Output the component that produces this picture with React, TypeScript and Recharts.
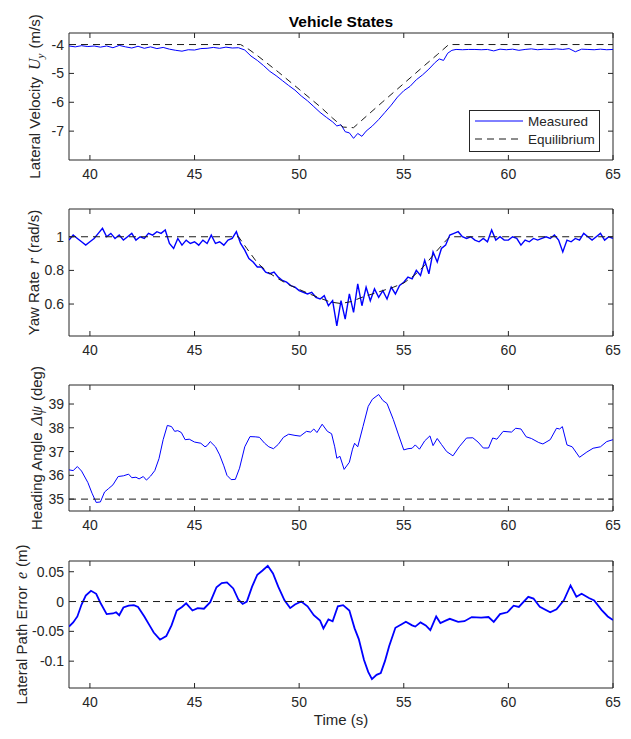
import React from 'react';
import { LineChart, Line, XAxis, YAxis, ReferenceArea, Legend } from 'recharts';

// ---------------- data ----------------
const timeTicks = [40, 45, 50, 55, 60, 65];
const timeDomain = [39, 65];

// Panel 1: lateral velocity Uy (m/s)
const uyTime = [
  39.0, 39.3, 39.6, 39.9, 40.2, 40.5, 40.8, 41.1, 41.4, 41.7,
  42.0, 42.3, 42.6, 42.9, 43.2, 43.5, 43.8, 44.1, 44.4, 44.7,
  45.0, 45.3, 45.6, 45.9, 46.2, 46.5, 46.8, 47.1, 47.4, 47.7,
  48.0, 48.3, 48.6, 48.9, 49.2, 49.5, 49.8, 50.1, 50.4, 50.7,
  51.0, 51.3, 51.6, 51.8, 52.0, 52.2, 52.4, 52.6, 52.8, 53.0,
  53.2, 53.5, 53.8, 54.1, 54.4, 54.7, 55.0, 55.3, 55.6, 55.9,
  56.2, 56.5, 56.7, 56.9, 57.1, 57.3, 57.5, 57.8, 58.1, 58.4,
  58.7, 59.0, 59.3, 59.6, 59.9, 60.2, 60.5, 60.8, 61.1, 61.4,
  61.7, 62.0, 62.3, 62.6, 62.9, 63.2, 63.5, 63.8, 64.1, 64.4,
  64.7, 65.0,
];
const uyMeasured = [
  -4.05, -4.08, -4.04, -4.07, -4.05, -4.09, -4.05, -4.11, -4.03, -4.08,
  -4.12, -4.06, -4.13, -4.08, -4.14, -4.10, -4.16, -4.20, -4.23, -4.18,
  -4.19, -4.14, -4.13, -4.10, -4.13, -4.09, -4.12, -4.11, -4.19, -4.40,
  -4.55, -4.73, -4.93, -5.08, -5.25, -5.42, -5.58, -5.78, -5.95, -6.15,
  -6.35, -6.52, -6.68, -6.82, -6.78, -7.02, -7.06, -7.25, -7.08, -7.18,
  -7.00, -6.82, -6.60, -6.35, -6.10, -5.82, -5.60, -5.45, -5.22, -5.05,
  -4.85, -4.62, -4.50, -4.55, -4.30, -4.20, -4.17, -4.18, -4.17, -4.17,
  -4.18, -4.17, -4.22, -4.16, -4.18, -4.16, -4.20, -4.17, -4.15, -4.18,
  -4.16, -4.17, -4.15, -4.17, -4.14, -4.25, -4.16, -4.17, -4.18, -4.16,
  -4.18, -4.17,
];
const uyEqTime = [39, 47.2, 47.6, 48, 49, 50, 51, 51.6, 52.1, 52.6, 53, 54, 55, 56, 56.6, 57.15, 65];
const uyEquilibrium = [-4, -4, -4.17, -4.38, -4.95, -5.55, -6.15, -6.55, -6.86, -6.88, -6.62, -5.98, -5.35, -4.72, -4.35, -4, -4];
const uyTicks = [-7, -6, -5, -4];
const uyDomain = [-8, -3.6];

// Panel 2: yaw rate r (rad/s)
const yawTime = [
  39.0, 39.2, 39.4, 39.6, 39.8, 40.0, 40.2, 40.4, 40.6, 40.8,
  41.0, 41.2, 41.4, 41.6, 41.8, 42.0, 42.2, 42.4, 42.6, 42.8,
  43.0, 43.2, 43.4, 43.6, 43.8, 44.0, 44.2, 44.4, 44.6, 44.8,
  45.0, 45.2, 45.4, 45.6, 45.8, 46.0, 46.2, 46.4, 46.6, 46.8,
  47.0, 47.2, 47.4, 47.6, 47.8, 48.0, 48.2, 48.4, 48.6, 48.8,
  49.0, 49.2, 49.4, 49.6, 49.8, 50.0, 50.2, 50.4, 50.6, 50.8,
  51.0, 51.2, 51.4, 51.6, 51.8, 52.0, 52.2, 52.4, 52.6, 52.8,
  53.0, 53.2, 53.4, 53.6, 53.8, 54.0, 54.2, 54.4, 54.6, 54.8,
  55.0, 55.2, 55.4, 55.6, 55.8, 56.0, 56.2, 56.4, 56.6, 56.8,
  57.0, 57.2, 57.4, 57.6, 57.8, 58.0, 58.2, 58.4, 58.6, 58.8,
  59.0, 59.2, 59.4, 59.6, 59.8, 60.0, 60.2, 60.4, 60.6, 60.8,
  61.0, 61.2, 61.4, 61.6, 61.8, 62.0, 62.2, 62.4, 62.6, 62.8,
  63.0, 63.2, 63.4, 63.6, 63.8, 64.0, 64.2, 64.4, 64.6, 64.8,
  65.0,
];
const yawMeasured = [
  0.98, 1.01, 0.99, 0.97, 0.95, 0.97, 0.99, 1.02, 1.05, 1.00,
  1.02, 0.99, 1.01, 0.98, 1.00, 1.02, 0.98, 1.00, 0.99, 1.02,
  1.01, 1.03, 1.02, 1.04, 0.96, 0.93, 0.99, 0.95, 0.98, 0.96,
  0.97, 0.95, 0.98, 0.96, 1.01, 0.96, 0.97, 0.95, 0.98, 0.99,
  1.03, 0.96, 0.92, 0.87, 0.85, 0.82, 0.82, 0.79, 0.78, 0.79,
  0.76, 0.74, 0.73, 0.71, 0.70, 0.68, 0.67, 0.66, 0.67, 0.64,
  0.63, 0.65, 0.59, 0.62, 0.47, 0.62, 0.51, 0.66, 0.55, 0.72,
  0.59, 0.70, 0.62, 0.69, 0.64, 0.68, 0.63, 0.70, 0.66, 0.71,
  0.73, 0.76, 0.75, 0.80, 0.77, 0.86, 0.78, 0.91, 0.85, 0.93,
  0.95, 1.01, 1.02, 1.03, 1.00, 0.99, 1.00, 0.98, 0.97, 0.99,
  0.97, 1.04, 0.98, 1.00, 0.98, 0.98, 1.00, 0.99, 0.95, 0.98,
  0.97, 0.99, 0.98, 0.99, 1.00, 0.99, 1.01, 0.98, 0.91, 0.98,
  0.97, 0.99, 0.98, 1.02, 1.00, 0.98, 1.00, 1.02, 0.98, 1.00,
  0.99,
];
const yawEqTime = [39, 47.1, 47.5, 48, 48.5, 49, 49.5, 50, 50.5, 51, 51.5, 52, 52.5, 53, 53.5, 54, 54.5, 55, 55.5, 56, 56.5, 57, 57.2, 65];
const yawEquilibrium = [1, 1, 0.93, 0.845, 0.79, 0.75, 0.715, 0.687, 0.66, 0.635, 0.612, 0.603, 0.615, 0.64, 0.66, 0.68, 0.7, 0.725, 0.77, 0.83, 0.905, 0.975, 1, 1];
const yawTicks = [0.6, 0.8, 1];
const yawDomain = [0.41, 1.165];

// Panel 3: heading angle (deg)
const headingTime = [
  39.0, 39.2, 39.4, 39.6, 39.9, 40.1, 40.3, 40.5, 40.7, 40.9,
  41.1, 41.35, 41.6, 41.85, 42.0, 42.2, 42.35, 42.55, 42.7, 42.9,
  43.1, 43.3, 43.5, 43.7, 43.9, 44.05, 44.2, 44.37, 44.55, 44.75,
  45.0, 45.3, 45.5, 45.6, 45.75, 46.0, 46.2, 46.4, 46.55, 46.75,
  46.95, 47.15, 47.4, 47.65, 47.9, 48.1, 48.35, 48.55, 48.77, 49.0,
  49.25, 49.5, 49.8, 50.05, 50.35, 50.55, 50.7, 50.85, 51.1, 51.35,
  51.55, 51.7, 51.8, 51.95, 52.15, 52.4, 52.55, 52.65, 52.8, 53.05,
  53.3, 53.5, 53.8, 54.0, 54.2, 54.5, 54.75, 55.0, 55.2, 55.4,
  55.55, 55.75, 56.0, 56.25, 56.4, 56.6, 56.8, 57.05, 57.35, 57.65,
  58.0, 58.3, 58.55, 58.8, 59.05, 59.25, 59.45, 59.75, 60.15, 60.35,
  60.6, 60.85, 61.1, 61.45, 61.65, 62.0, 62.3, 62.45, 62.58, 62.8,
  63.05, 63.4, 63.75, 64.05, 64.4, 64.7, 65.0,
];
const headingMeasured = [
  36.23, 36.2, 36.37, 36.18, 35.7, 35.25, 34.86, 34.88, 35.3, 35.45,
  35.6, 35.95, 35.98, 36.05, 35.9, 35.92, 35.85, 35.95, 35.8, 35.97,
  36.2, 36.7, 37.5, 38.1, 38.05, 37.85, 37.88, 37.8, 37.5, 37.52,
  37.4, 37.35, 37.2, 37.25, 37.42, 37.2, 36.86, 36.4, 36.0, 35.82,
  35.83, 36.3, 37.2, 37.63, 37.62, 37.6, 37.35, 37.2, 37.12, 37.3,
  37.6, 37.73, 37.68, 37.65, 37.85, 37.82, 37.95, 37.8, 38.15, 37.85,
  37.75, 37.2, 36.72, 36.8, 36.25, 36.55, 37.1, 37.35, 37.2, 38.05,
  38.9, 39.2, 39.4, 39.15, 39.02, 38.35, 37.7, 37.07, 37.12, 37.14,
  37.28, 37.1, 37.45, 37.66, 37.25, 37.55, 37.3, 37.0, 36.82, 37.2,
  37.57, 37.58, 37.4, 37.15, 37.15, 37.57, 37.52, 37.85, 37.82, 37.98,
  37.95, 37.62, 37.55, 37.38, 37.32, 37.5, 37.98, 37.95, 38.05, 37.28,
  37.2, 36.76, 36.98, 37.14, 37.2, 37.42, 37.5,
];
const headingEqTime = [39, 65];
const headingEquilibrium = [35, 35];
const headingTicks = [35, 36, 37, 38, 39];
const headingDomain = [34.5, 39.8];

// Panel 4: lateral path error e (m)
const errorTime = [
  39.0, 39.2, 39.4, 39.6, 39.8, 40.05, 40.3, 40.5, 40.8, 41.1,
  41.25, 41.4, 41.6, 41.85, 42.1, 42.3, 42.6, 42.85, 43.05, 43.35,
  43.65, 43.9, 44.15, 44.4, 44.6, 44.9, 45.15, 45.45, 45.75, 46.05,
  46.3, 46.55, 46.85, 47.1, 47.3, 47.5, 47.75, 48.0, 48.25, 48.5,
  48.75, 49.0, 49.3, 49.57, 49.8, 50.1, 50.4, 50.7, 51.0, 51.16,
  51.4, 51.6, 51.85, 52.1, 52.4, 52.65, 52.85, 53.1, 53.3, 53.48,
  53.7, 53.9, 54.1, 54.3, 54.6, 54.9, 55.1, 55.4, 55.55, 55.8,
  56.05, 56.27, 56.55, 56.75, 57.0, 57.2, 57.6, 57.9, 58.25, 58.7,
  59.05, 59.3, 59.6, 59.95, 60.25, 60.5, 60.95, 61.2, 61.5, 62.0,
  62.3, 62.65, 62.97, 63.25, 63.5, 63.85, 64.1, 64.45, 64.75, 65.0,
];
const errorMeasured = [
  -0.042, -0.035, -0.025, -0.005, 0.01, 0.018, 0.013, -0.002, -0.021, -0.02,
  -0.018, -0.023, -0.01, -0.007, -0.006, -0.009, -0.025, -0.04, -0.052, -0.064,
  -0.058, -0.04, -0.015, -0.009, -0.003, -0.015, -0.011, -0.012, -0.001, 0.024,
  0.031, 0.032, 0.022, 0.003, -0.004, 0.0, 0.025, 0.045, 0.052, 0.06,
  0.047, 0.025, 0.002, -0.011, -0.005, 0.0, -0.008, -0.023, -0.032, -0.045,
  -0.03, -0.033, -0.008, -0.006, -0.015, -0.045, -0.063, -0.098, -0.118, -0.13,
  -0.123, -0.12, -0.1, -0.075, -0.044, -0.038, -0.034, -0.04, -0.042, -0.035,
  -0.04, -0.048, -0.025, -0.036, -0.032, -0.029, -0.034, -0.033, -0.026, -0.027,
  -0.026, -0.034, -0.021, -0.018, -0.007, -0.009, 0.008, 0.005, -0.009, -0.018,
  -0.013, 0.002, 0.027, 0.008, 0.013, 0.006, 0.002, -0.014, -0.025, -0.031,
];
const errorEqTime = [39, 65];
const errorEquilibrium = [0, 0];
const errorTicks = [-0.1, -0.05, 0, 0.05];
const errorDomain = [-0.145, 0.068];

// ---------------- styling ----------------
const FONT = '"Liberation Sans", Arial, Helvetica, sans-serif';
const MATH_FONT = '"Liberation Serif", "Times New Roman", serif';
const AXIS = '#262626';
const TEXT = '#262626';
const BLUE = '#0000ff';
const DASH = '#1a1a1a';
const W = 631;
const PLOT_LEFT = 69;
const PLOT_RIGHT = 613;
const Y_AXIS_W = 60;
const X_AXIS_H = 25;

const pts = (ts: number[], vs: number[]) => ts.map((t, i) => ({ t, v: vs[i] }));

const makeXTick = (plotTop: number) => (props: any) => {
  const { x, y, payload } = props;
  return (
    <g>
      <line x1={x} x2={x} y1={y} y2={y - 5} stroke={AXIS} strokeWidth={1} />
      <line x1={x} x2={x} y1={plotTop} y2={plotTop + 5} stroke={AXIS} strokeWidth={1} />
      <text x={x} y={y + 19} textAnchor="middle" fontSize={14} fill={TEXT} fontFamily={FONT}>
        {payload.value}
      </text>
    </g>
  );
};

const YTick = (props: any) => {
  const { x, y, payload } = props;
  return (
    <g>
      <line x1={x} x2={x + 5} y1={y} y2={y} stroke={AXIS} strokeWidth={1} />
      <line x1={PLOT_RIGHT} x2={PLOT_RIGHT - 5} y1={y} y2={y} stroke={AXIS} strokeWidth={1} />
      <text x={x - 5} y={y + 5} textAnchor="end" fontSize={14} fill={TEXT} fontFamily={FONT}>
        {payload.value}
      </text>
    </g>
  );
};

type LabelSpec = { prefix: string; math: string; sub?: string; suffix: string; x: number };

const makeYLabel = (spec: LabelSpec, cy: number) => () => (
  <text
    transform={`translate(${spec.x},${cy}) rotate(-90)`}
    textAnchor="middle"
    fontSize={15}
    fill={TEXT}
    fontFamily={FONT}
  >
    {spec.prefix}
    <tspan dx={7} fontFamily={MATH_FONT} fontStyle="italic" fontSize={16}>
      {spec.math}
    </tspan>
    {spec.sub ? (
      <tspan dy={4} fontFamily={MATH_FONT} fontStyle="italic" fontSize={11}>
        {spec.sub}
      </tspan>
    ) : null}
    <tspan dx={5} dy={spec.sub ? -4 : 0}>
      {spec.suffix}
    </tspan>
  </text>
);

const LegendBox = () => (
  <svg width={132} height={43} style={{ display: 'block' }}>
    <rect x={0.5} y={0.5} width={130} height={41} fill="#fff" stroke={AXIS} strokeWidth={1} />
    <line x1={6} x2={54} y1={11} y2={11} stroke={BLUE} strokeWidth={1} />
    <line x1={6} x2={54} y1={29} y2={29} stroke={DASH} strokeWidth={1} strokeDasharray="7 5" />
    <text x={59} y={16} fontSize={13.5} fill={TEXT} fontFamily={FONT}>Measured</text>
    <text x={59} y={34} fontSize={13.5} fill={TEXT} fontFamily={FONT}>Equilibrium</text>
  </svg>
);

type PanelProps = {
  top: number;
  height: number;
  plotTop: number;
  plotBottom: number;
  domain: number[];
  ticks: number[];
  label: LabelSpec;
  meas: { t: number; v: number }[];
  eq: { t: number; v: number }[];
  measWidth: number;
  legend?: boolean;
};

function Panel(p: PanelProps) {
  return (
    <div style={{ position: 'absolute', left: 0, top: p.top, width: W, height: p.height }}>
      <LineChart
        width={W}
        height={p.height}
        margin={{
          top: p.plotTop,
          right: W - PLOT_RIGHT,
          left: PLOT_LEFT - Y_AXIS_W,
          bottom: p.height - p.plotBottom - X_AXIS_H,
        }}
      >
        <XAxis
          dataKey="t"
          type="number"
          domain={timeDomain}
          ticks={timeTicks}
          interval={0}
          allowDataOverflow
          height={X_AXIS_H}
          axisLine={false}
          tickLine={false}
          tickSize={0}
          tickMargin={0}
          tick={makeXTick(p.plotTop)}
        />
        <YAxis
          type="number"
          domain={p.domain}
          ticks={p.ticks}
          interval={0}
          allowDataOverflow
          width={Y_AXIS_W}
          axisLine={false}
          tickLine={false}
          tickSize={0}
          tickMargin={0}
          tick={YTick}
          label={{ content: makeYLabel(p.label, (p.plotTop + p.plotBottom) / 2) }}
        />
        <Line
          data={p.meas}
          dataKey="v"
          type="linear"
          stroke={BLUE}
          strokeWidth={p.measWidth}
          dot={false}
          isAnimationActive={false}
          name="Measured"
        />
        <Line
          data={p.eq}
          dataKey="v"
          type="linear"
          stroke={DASH}
          strokeWidth={1}
          strokeDasharray="7 5"
          dot={false}
          isAnimationActive={false}
          name="Equilibrium"
        />
        <ReferenceArea
          x1={timeDomain[0]}
          x2={timeDomain[1]}
          y1={p.domain[0]}
          y2={p.domain[1]}
          fill="none"
          fillOpacity={0}
          stroke={AXIS}
          strokeWidth={1}
          strokeOpacity={1}
        />
        {p.legend ? (
          <Legend
            layout="horizontal"
            verticalAlign="middle"
            align="center"
            wrapperStyle={{ left: 469, top: 110, width: 132, height: 43 }}
            content={() => <LegendBox />}
          />
        ) : null}
      </LineChart>
    </div>
  );
}

export default function App() {
  return (
    <div
      style={{
        position: 'absolute',
        left: 0,
        top: 0,
        width: W,
        height: 739,
        background: '#fff',
        fontFamily: FONT,
      }}
    >
      <div
        style={{
          position: 'absolute',
          left: 191,
          top: 14,
          width: 300,
          textAlign: 'center',
          fontSize: 15.5,
          lineHeight: 1,
          fontWeight: 'bold',
          color: '#000',
        }}
      >
        Vehicle States
      </div>
      <Panel
        top={0}
        height={190}
        plotTop={33}
        plotBottom={160}
        domain={uyDomain}
        ticks={uyTicks}
        label={{ prefix: 'Lateral Velocity', math: 'U', sub: 'y', suffix: '(m/s)', x: 40 }}
        meas={pts(uyTime, uyMeasured)}
        eq={pts(uyEqTime, uyEquilibrium)}
        measWidth={1}
        legend
      />
      <Panel
        top={190}
        height={175}
        plotTop={19}
        plotBottom={146}
        domain={yawDomain}
        ticks={yawTicks}
        label={{ prefix: 'Yaw Rate', math: 'r', suffix: '(rad/s)', x: 39 }}
        meas={pts(yawTime, yawMeasured)}
        eq={pts(yawEqTime, yawEquilibrium)}
        measWidth={1.4}
      />
      <Panel
        top={365}
        height={175}
        plotTop={20}
        plotBottom={146}
        domain={headingDomain}
        ticks={headingTicks}
        label={{ prefix: 'Heading Angle', math: 'Δψ', suffix: '(deg)', x: 42 }}
        meas={pts(headingTime, headingMeasured)}
        eq={pts(headingEqTime, headingEquilibrium)}
        measWidth={1}
      />
      <Panel
        top={540}
        height={199}
        plotTop={21}
        plotBottom={148}
        domain={errorDomain}
        ticks={errorTicks}
        label={{ prefix: 'Lateral Path Error', math: 'e', suffix: '(m)', x: 27 }}
        meas={pts(errorTime, errorMeasured)}
        eq={pts(errorEqTime, errorEquilibrium)}
        measWidth={1.8}
      />
      <div
        style={{
          position: 'absolute',
          left: 241,
          top: 712,
          width: 200,
          textAlign: 'center',
          fontSize: 15,
          lineHeight: 1,
          color: TEXT,
        }}
      >
        Time (s)
      </div>
    </div>
  );
}
